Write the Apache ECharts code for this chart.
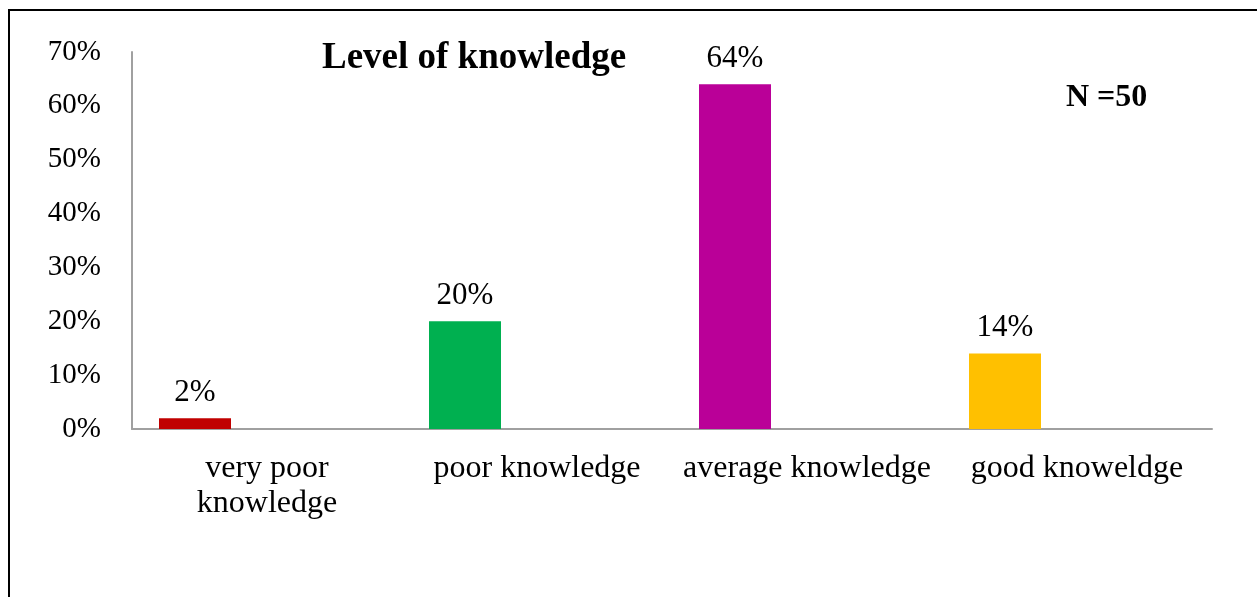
<!DOCTYPE html>
<html>
<head>
<meta charset="utf-8">
<script src="https://cdn.jsdelivr.net/npm/echarts@6/dist/echarts.min.js"></script>
<style>
html,body{margin:0;padding:0;background:#fff;}
#chart{width:1257px;height:597px;}
</style>
</head>
<body>
<div id="chart"></div>
<script>
var categories = ['very poor\nknowledge', 'poor knowledge', 'average knowledge', 'good knoweldge'];
var values = [2, 20, 64, 14];
var barColors = ['#C00000', '#00B050', '#BA0098', '#FFC000'];
var yTicks = [0, 10, 20, 30, 40, 50, 60, 70];
var emptySeries = [null, null, null, null];

var FONT = "'Liberation Serif', 'Times New Roman', serif";
var chart = echarts.init(document.getElementById('chart'));
chart.setOption({
  animation: false,
  backgroundColor: '#fff',
  textStyle: { fontFamily: FONT },
  title: [
    { text: 'Level of knowledge', left: 317, top: 35,
      textStyle: { fontFamily: FONT, fontSize: 37, fontWeight: 'bold', color: '#000' } },
    { text: 'N =50', left: 1061, top: 77,
      textStyle: { fontFamily: FONT, fontSize: 32, fontWeight: 'bold', color: '#000' } }
  ],
  graphic: [
    { type: 'rect', shape: { x: 9, y: 10, width: 1400, height: 800 },
      style: { fill: 'none', stroke: '#000', lineWidth: 2 }, z: 100 }
  ],
  grid: { left: 132, right: 45, top: 52, bottom: 168, containLabel: false },
  xAxis: {
    type: 'category',
    data: categories,
    axisLine: { lineStyle: { color: '#a0a0a0', width: 2 } },
    axisTick: { show: false },
    axisLabel: { fontFamily: FONT, fontSize: 32, color: '#000', margin: 22, lineHeight: 35, interval: 0 }
  },
  yAxis: {
    type: 'value',
    min: yTicks[0], max: yTicks[yTicks.length - 1], interval: 10,
    axisLine: { show: true, lineStyle: { color: '#a0a0a0', width: 2 } },
    axisTick: { show: false },
    splitLine: { show: false },
    axisLabel: { fontFamily: FONT, fontSize: 29, color: '#000', margin: 31, formatter: '{value}%' }
  },
  series: [
    {
      type: 'bar',
      barGap: '0%',
      barCategoryGap: '20%',
      data: values.map(function (v, i) { return { value: v, itemStyle: { color: barColors[i] } }; }),
      label: { show: true, position: 'top', distance: 10, formatter: '{c}%',
        fontFamily: FONT, fontSize: 31, color: '#000' }
    },
    { type: 'bar', data: emptySeries },
    { type: 'bar', data: emptySeries }
  ]
});
</script>
</body>
</html>
